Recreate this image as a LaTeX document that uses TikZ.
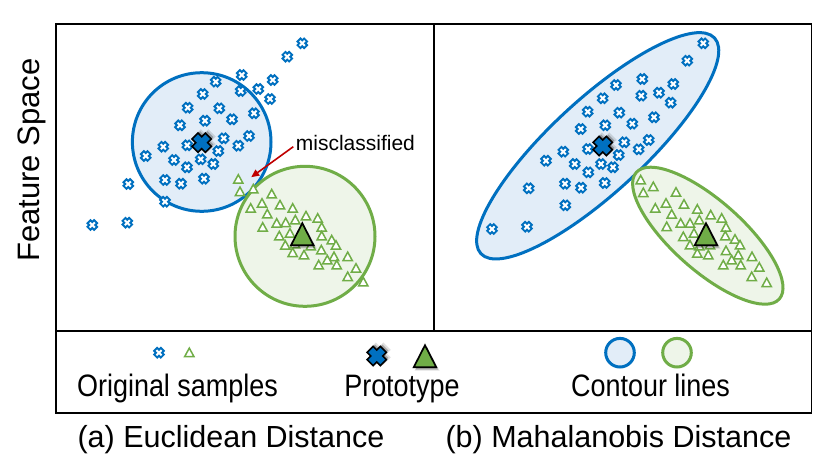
\documentclass[tikz,border=0pt]{standalone}
\usepackage{fontspec}
\setmainfont{Liberation Sans}
\newfontfamily\mylegfam[FakeStretch=0.87]{Liberation Sans}
\usetikzlibrary{arrows.meta}
\definecolor{cblue}{RGB}{0,112,192}
\definecolor{cbluefill}{RGB}{226,237,248}
\definecolor{cgreen}{RGB}{112,173,71}
\definecolor{cgreenfill}{RGB}{238,245,233}
\definecolor{cred}{RGB}{192,0,0}
\newcommand{\mycapfont}{\fontsize{30.5}{36}\selectfont}
\newcommand{\mylegfont}{\mylegfam\fontsize{31}{36}\selectfont}
\newcommand{\myfsfont}{\fontsize{31}{36}\selectfont}
\newcommand{\mymisfont}{\fontsize{21}{25}\selectfont}
\begin{document}
\begin{tikzpicture}[x=1pt,y=-1pt,
  frame/.style={draw=black,line width=1.4pt},
  bluecont/.style={draw=cblue,fill=cbluefill,line width=3pt},
  greencont/.style={draw=cgreen,fill=cgreenfill,line width=3pt},
  txt/.style={inner sep=0pt,anchor=base,text=black},
  sx/.pic={\draw[draw=cblue,fill=white,line width=1.9pt,rotate=45,line join=miter]
     (2.1,4.7)--(2.1,2.1)--(4.7,2.1)--(4.7,-2.1)--(2.1,-2.1)--(2.1,-4.7)--(-2.1,-4.7)--(-2.1,-2.1)--(-4.7,-2.1)--(-4.7,2.1)--(-2.1,2.1)--(-2.1,4.7)--cycle;},
  st/.pic={\draw[draw=cgreen,fill=white,line width=1.5pt,line join=miter]
     (-4.6,3.8)--(4.6,3.8)--(0,-4.6)--cycle;},
  px/.pic={
     \fill[black,opacity=0.12,rotate=45,shift={(3.8,0.4)}]
       (5.2,10.5)--(5.2,5.2)--(10.5,5.2)--(10.5,-5.2)--(5.2,-5.2)--(5.2,-10.5)--(-5.2,-10.5)--(-5.2,-5.2)--(-10.5,-5.2)--(-10.5,5.2)--(-5.2,5.2)--(-5.2,10.5)--cycle;
     \fill[black,opacity=0.25,rotate=45,shift={(2.8,0.2)}]
       (4.2,9.4)--(4.2,4.2)--(9.4,4.2)--(9.4,-4.2)--(4.2,-4.2)--(4.2,-9.4)--(-4.2,-9.4)--(-4.2,-4.2)--(-9.4,-4.2)--(-9.4,4.2)--(-4.2,4.2)--(-4.2,9.4)--cycle;
     \draw[draw=black,fill=cblue,line width=1.6pt,rotate=45,line join=miter]
       (4.2,9.4)--(4.2,4.2)--(9.4,4.2)--(9.4,-4.2)--(4.2,-4.2)--(4.2,-9.4)--(-4.2,-9.4)--(-4.2,-4.2)--(-9.4,-4.2)--(-9.4,4.2)--(-4.2,4.2)--(-4.2,9.4)--cycle;},
  pt/.pic={
     \fill[black,opacity=0.12] (-10.5,13.5)--(14.5,13.5)--(2,-10)--cycle;
     \fill[black,opacity=0.22] (-9.5,12.5)--(13,12.5)--(1.8,-9.5)--cycle;
     \draw[draw=black,fill=cgreen,line width=1.7pt,line join=miter]
       (-11.3,10.3)--(11.3,10.3)--(0,-11.8)--cycle;}
]
\useasboundingbox (0,0) rectangle (831,469);
\fill[white] (0,0) rectangle (831,469);

% ---------- left panel: Euclidean ----------
\draw[bluecont] (201.7,142) circle[radius=69.3pt];
\draw[greencont] (305,236.3) circle[radius=70pt];
\foreach \x/\y in {302.3/43.3,287.3/56.7,241.7/75,272.7/80,215.7/81.7,258.3/89,240.7/91,202.7/94,270/99,
  187.7/107.7,219.3/108.3,254/113.3,205/120.7,232/119.3,180/125.3,249/136,223.7/138.3,187.3/145.3,
  163.3/146.7,238.3/145.7,218.3/151,145.7/156,174/160,200.7/159.3,213.3/164,187/167.3,128.3/184,
  165/180,181/183.7,204/178.7,165/201.7,127.3/222.7,92.3/225}
  \pic at (\x,\y) {sx};
\foreach \x/\y in {238.3/179.3,240/191.7,253.3/189,271.7/194,250.7/208.3,262/203.3,280/205,267.3/214,
  292.7/208.3,306/216,317.7/218.3,262.7/227.3,276.7/223.3,285.7/222.7,295.3/220,321.7/227.3,279.3/236,
  290/233.3,321.7/236,331.7/240,285.3/245.3,295/244,310.7/246,336/245.3,292.7/252.7,304/255,321.3/250,
  334/256.7,347.7/256.7,318.7/265,327.3/260,336.7/265,356/268.3,347.7/276.7,363.3/282}
  \pic at (\x,\y) {st};
\pic at (201.7,142.7) {px};
\pic at (302.3,235) {pt};

\node[txt,anchor=base west,font=\mymisfont] (mis) at (295.7,150) {misclassified};
\coordinate (astart) at (293.3,146.7);
\coordinate (atip) at (251.2,177.2);
\draw[cred,line width=1.6pt,-{Triangle[length=8pt,width=7pt]}] (astart) -- (atip);

% ---------- right panel: Mahalanobis ----------
\draw[bluecont,shift={(597.7,145.8)},rotate=42.7] (0,0) ellipse[x radius=159pt,y radius=46.6pt];
\draw[greencont,shift={(707.8,235.7)},rotate=-41.5] (0,0) ellipse[x radius=95.5pt,y radius=35pt];
\foreach \x/\y in {703.3/43.3,687.3/60.7,642.3/79,616/85,673.3/84,641.3/95.7,659/92.7,602.7/98.3,670.7/102.7,
  587.7/111.7,619.3/112.7,654/117.3,580.7/129,605.3/125.3,632.3/123.7,563.3/151.7,588/149,624.3/142.3,
  648.7/140,638.7/149.3,546/160.7,574.7/164,601/164,618.7/155,613/167.3,588.3/172.3,528.7/188.3,
  565/183.7,581/187.7,604.7/183,565.3/205.3,527/226.7,492/229}
  \pic at (\x,\y) {sx};
\foreach \x/\y in {640.7/180,653.3/186.7,643.3/192.7,676/192.3,666/203.3,684/204.3,655.3/208.3,697.3/209.3,
  671.7/214.3,710.7/215,721.7/218.3,666.7/226.7,680.7/223.3,690/223.3,699.3/220,726/227.3,683.3/236.7,
  694/233.3,725.3/236,735/239.3,690/245,699.3/246,710/245,740/245,697.3/253.3,708.3/255,726/250.7,
  738.3/255,752/256.7,723.3/265,731.7/260,740.7/265,759.3/267.3,751.7/276.7,766.7/282.7}
  \pic at (\x,\y) {st};
\pic at (602.7,146) {px};
\pic at (706,235) {pt};

% ---------- frames ----------
\draw[frame] (56,24) rectangle (434,331);
\draw[frame] (434,24) rectangle (811.5,331);
\draw[frame] (56,331) rectangle (811.5,413);

% ---------- axis label ----------
\node[txt,rotate=90,font=\myfsfont] (fs) at (39,160) {Feature Space};

% ---------- legend ----------
\pic at (159,352.7) {sx};
\pic at (189.3,352.7) {st};
\node[txt,font=\mylegfont] (lorig) at (177.5,396.7) {Original samples};
\pic at (376.7,356) {px};
\pic at (425,357) {pt};
\node[txt,font=\mylegfont] (lproto) at (402,396.7) {Prototype};
\draw[bluecont] (620,352.7) circle[radius=14.3pt];
\draw[greencont] (677,352.7) circle[radius=14.3pt];
\node[txt,font=\mylegfont] (lcont) at (650.5,396.7) {Contour lines};

% ---------- captions ----------
\node[txt,font=\mycapfont] (capa) at (231,447) {(a) Euclidean Distance};
\node[txt,font=\mycapfont] (capb) at (618.5,447) {(b) Mahalanobis Distance};
\end{tikzpicture}
\end{document}
